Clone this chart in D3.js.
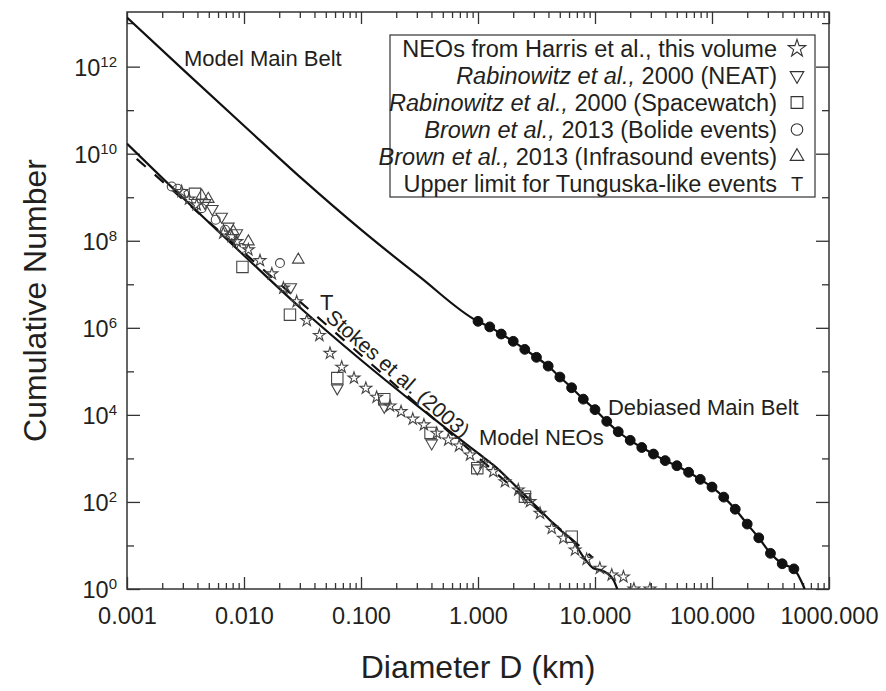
<!DOCTYPE html>
<html>
<head>
<meta charset="utf-8">
<script src="https://cdn.jsdelivr.net/npm/d3@7"></script>
<style>
    body { margin: 0; background: #fff; }
    text { font-family: Arial, "Liberation Sans", sans-serif; fill: #231f20; white-space: pre; }
</style>
</head>
<body>
<div id="chart"></div>
<script>
// ---- data (D in km, N = cumulative number) ----

// Model Main Belt, small sizes (solid line)
var beltModelD = [0.001, 0.00316, 0.01, 0.0316, 0.1, 0.316, 1];
var beltModelN = [1.35e13, 7.6e11, 4.4e10, 2.6e9, 1.8e8, 1.5e7, 1.4e6];

// Debiased Main Belt (filled dots)
var debiasedD = [1, 1.26, 1.58, 2.0, 2.51, 3.16, 3.98, 5.01, 6.31, 7.94, 10, 12.6, 15.8, 20.0,
    25.1, 31.6, 39.8, 50.1, 63.1, 79.4, 100, 126, 158, 200, 251, 316, 398, 501];
var debiasedN = [1.41e6, 1.05e6, 7.2e5, 4.9e5, 3.2e5, 2.1e5, 1.32e5, 7.4e4, 4.2e4, 2.3e4, 1.32e4,
    7100, 4100, 2600, 1780, 1260, 890, 680, 480, 330, 220, 129, 68, 31, 15, 6.6, 3.8, 2.9];
var beltEndD = [620];
var beltEndN = [1];

// Model NEOs (solid line)
var neoModelD = [0.001, 0.00316, 0.01, 0.0316, 0.1, 0.316, 0.575, 1, 1.35, 2.14, 3.16,
    5.01, 6.53, 7.94, 9.68, 11.7, 14.4, 15.5];
var neoModelN = [1.7e10, 8.5e8, 4.6e7, 2.6e6, 1.82e5, 1.48e4, 4170, 1320, 708, 219, 78,
    23, 12.3, 5.5, 3.0, 2.6, 1.6, 1];

// Stokes et al. (2003) power law (dashed)
var stokesD = [0.00121, 9.6];
var stokesN = [7.6e9, 5.2];

// NEOs from Harris et al. (stars)
var harrisD = [0.00293, 0.00339, 0.00394, 0.00665, 0.00785, 0.00867, 0.0109, 0.0137, 0.0173,
    0.0217, 0.0282, 0.0344, 0.0441, 0.0543, 0.0684, 0.0871, 0.110, 0.136, 0.177, 0.220, 0.277,
    0.345, 0.444, 0.557, 0.689, 0.855, 1.11, 1.35, 1.70, 2.21, 2.78, 3.39, 4.27, 5.36, 6.75,
    8.49, 11.0, 13.9, 17.5, 21.5, 29.5];
var harrisN = [1.36e9, 9.1e8, 6.7e8, 1.5e8, 1.26e8, 9.6e7, 6.2e7, 3.5e7, 1.74e7, 8.2e6, 4.0e6,
    1.47e6, 6.7e5, 2.6e5, 1.25e5, 7.0e4, 4.1e4, 2.55e4, 1.61e4, 1.19e4, 8000, 5900, 3800, 2660,
    1940, 1200, 776, 498, 293, 189, 102, 55, 24.8, 14.7, 7.9, 4.8, 3.0, 2.1, 1.9, 1, 1];

// Rabinowitz et al. 2000, NEAT (down triangles)
var neatD = [0.00465, 0.00536, 0.00644, 0.00735, 0.00867, 0.0251, 0.0627, 0.158, 0.402, 0.986, 2.52];
var neatN = [7.4e8, 5.4e8, 3.6e8, 2.13e8, 1.5e8, 8.6e6, 4.1e4, 1.55e4, 2230, 596, 130];

// Rabinowitz et al. 2000, Spacewatch (squares)
var spacewatchD = [0.00381, 0.0097, 0.0247, 0.0627, 0.158, 0.393, 0.986, 2.52, 6.32];
var spacewatchN = [1.2e9, 2.5e7, 2.0e6, 7.0e4, 2.3e4, 3860, 596, 132, 15.9];

// Brown et al. 2013, bolide events (circles)
var bolideD = [0.00241, 0.00271, 0.00309, 0.00435, 0.00573, 0.00689, 0.00955, 0.0203];
var bolideN = [1.77e9, 1.57e9, 1.2e9, 5.6e8, 3.04e8, 1.79e8, 6.8e7, 3.07e7];

// Brown et al. 2013, infrasound events (up triangles)
var infrasoundD = [0.00435, 0.00495, 0.0081, 0.0109, 0.0291];
var infrasoundN = [1.08e9, 9.1e8, 1.64e8, 9.6e7, 3.66e7];

// Upper limit for Tunguska-like events ("T")
var tunguskaD = [0.051];
var tunguskaN = [4.0e6];

var xTickValues = [0.001, 0.01, 0.1, 1, 10, 100, 1000];
var yLabelExponents = [0, 2, 4, 6, 8, 10, 12];

var legendItalic = ["", "Rabinowitz et al.,", "Rabinowitz et al.,", "Brown et al.,", "Brown et al.,", ""];
var legendPlain = ["NEOs from Harris et al., this volume", " 2000 (NEAT)", " 2000 (Spacewatch)",
    " 2013 (Bolide events)", " 2013 (Infrasound events)", "Upper limit for Tunguska-like events"];

// ---- layout ----
var width = 886, height = 691;
var margin = {top: 12, right: 57, bottom: 102, left: 127};
var innerW = width - margin.left - margin.right;
var innerH = height - margin.top - margin.bottom;

var x = d3.scaleLog().domain([0.001, 1000]).range([0, innerW]);
var y = d3.scaleLog().domain([1, 1.8e13]).range([innerH, 0]);

var svg = d3.select("#chart").append("svg")
    .attr("width", width)
    .attr("height", height)
    .style("background", "#fff");

var g = svg.append("g")
    .attr("transform", "translate(" + margin.left + "," + margin.top + ")");

g.append("defs").append("clipPath").attr("id", "plotClip")
    .append("rect").attr("width", innerW).attr("height", innerH);

function zip(a, b) {
    return a.map(function (d, i) { return [d, b[i]]; });
}

// ---- axes ----
var xMinor = x.ticks().filter(function (d) {
    var l = Math.log10(d);
    return Math.abs(l - Math.round(l)) > 1e-6;
});
var yMajor = d3.range(0, 14, 2).map(function (e) { return Math.pow(10, e); });
var yMinor = d3.range(1, 14, 2).map(function (e) { return Math.pow(10, e); });

function cleanAxis(sel) {
    sel.select(".domain").remove();
    sel.selectAll(".tick line").attr("stroke", "#333").attr("stroke-width", 1.3);
}

g.append("g").attr("transform", "translate(0," + innerH + ")")
    .call(d3.axisBottom(x).tickValues(xTickValues).tickSize(-12).tickSizeOuter(0)
        .tickPadding(18).tickFormat(d3.format(".3f")))
    .call(cleanAxis)
    .call(function (s) { s.selectAll("text").attr("font-size", 23.5).attr("font-family", null); });
g.append("g").attr("transform", "translate(0," + innerH + ")")
    .call(d3.axisBottom(x).tickValues(xMinor).tickSize(-6).tickSizeOuter(0).tickFormat(""))
    .call(cleanAxis);
g.append("g")
    .call(d3.axisTop(x).tickValues(xTickValues).tickSize(-12).tickSizeOuter(0).tickFormat(""))
    .call(cleanAxis);
g.append("g")
    .call(d3.axisTop(x).tickValues(xMinor).tickSize(-6).tickSizeOuter(0).tickFormat(""))
    .call(cleanAxis);

g.append("g")
    .call(d3.axisLeft(y).tickValues(yMajor).tickSize(-13).tickSizeOuter(0).tickFormat(""))
    .call(cleanAxis);
g.append("g")
    .call(d3.axisLeft(y).tickValues(yMinor).tickSize(-7).tickSizeOuter(0).tickFormat(""))
    .call(cleanAxis);
g.append("g").attr("transform", "translate(" + innerW + ",0)")
    .call(d3.axisRight(y).tickValues(yMajor).tickSize(-13).tickSizeOuter(0).tickFormat(""))
    .call(cleanAxis);
g.append("g").attr("transform", "translate(" + innerW + ",0)")
    .call(d3.axisRight(y).tickValues(yMinor).tickSize(-7).tickSizeOuter(0).tickFormat(""))
    .call(cleanAxis);

var yLab = g.append("g").selectAll("text")
    .data(yLabelExponents)
    .enter().append("text")
    .attr("x", -10)
    .attr("y", function (d) { return y(Math.pow(10, d)) + 9; })
    .attr("text-anchor", "end")
    .attr("font-size", 23.5);
yLab.append("tspan").text("10");
yLab.append("tspan").attr("dy", -9).attr("font-size", 15).text(function (d) { return d; });

g.append("rect")
    .attr("width", innerW).attr("height", innerH)
    .attr("fill", "none").attr("stroke", "#333").attr("stroke-width", 1.5);

// axis titles
svg.append("text")
    .attr("transform", "translate(46," + (margin.top + innerH / 2) + ") rotate(-90)")
    .attr("text-anchor", "middle")
    .attr("font-size", 32)
    .text("Cumulative Number");
svg.append("text")
    .attr("x", margin.left + innerW / 2)
    .attr("y", 678)
    .attr("text-anchor", "middle")
    .attr("font-size", 32)
    .text("Diameter D (km)");

// ---- curves ----
var line = d3.line()
    .x(function (d) { return x(d[0]); })
    .y(function (d) { return y(d[1]); })
    .curve(d3.curveMonotoneX);

var plot = g.append("g").attr("clip-path", "url(#plotClip)");

var beltData = zip(beltModelD, beltModelN)
    .concat(zip(debiasedD, debiasedN).slice(1))
    .concat(zip(beltEndD, beltEndN));
plot.append("path").datum(beltData)
    .attr("d", line).attr("fill", "none").attr("stroke", "#111").attr("stroke-width", 2.2);

plot.append("path").datum(zip(neoModelD, neoModelN))
    .attr("d", line).attr("fill", "none").attr("stroke", "#111").attr("stroke-width", 2.2);

plot.append("path").datum(zip(stokesD, stokesN))
    .attr("d", d3.line().x(function (d) { return x(d[0]); }).y(function (d) { return y(d[1]); }))
    .attr("fill", "none").attr("stroke", "#111").attr("stroke-width", 2.2)
    .attr("stroke-dasharray", "12,12");

// ---- markers ----
function drawMarkers(ds, ns, type, size, rot, filled) {
    var sym = d3.symbol().type(type).size(size);
    plot.append("g").selectAll("path")
        .data(zip(ds, ns))
        .enter().append("path")
        .attr("d", sym)
        .attr("transform", function (d) {
            return "translate(" + x(d[0]) + "," + y(d[1]) + ")" + (rot ? " rotate(" + rot + ")" : "");
        })
        .attr("fill", filled ? "#111" : "none")
        .attr("stroke", filled ? "#111" : "#444")
        .attr("stroke-width", filled ? 1 : 1.1);
}

drawMarkers(debiasedD, debiasedN, d3.symbolCircle, 76, 0, true);
drawMarkers(harrisD, harrisN, d3.symbolStar, 44, 0, false);
drawMarkers(neatD, neatN, d3.symbolTriangle, 58, 180, false);
drawMarkers(spacewatchD, spacewatchN, d3.symbolSquare, 130, 0, false);
drawMarkers(bolideD, bolideN, d3.symbolCircle, 62, 0, false);
drawMarkers(infrasoundD, infrasoundN, d3.symbolTriangle, 58, 0, false);

plot.append("g").selectAll("text")
    .data(zip(tunguskaD, tunguskaN))
    .enter().append("text")
    .attr("x", function (d) { return x(d[0]); })
    .attr("y", function (d) { return y(d[1]) + 8; })
    .attr("text-anchor", "middle")
    .attr("font-size", 22)
    .text("T");

// ---- annotations ----
g.append("text").attr("x", x(0.00307)).attr("y", y(1.05e12))
    .attr("font-size", 22).text("Model Main Belt");
g.append("text").attr("x", x(12.9)).attr("y", y(1.0e4))
    .attr("font-size", 22).text("Debiased Main Belt");
g.append("text").attr("x", x(1.02)).attr("y", y(2.0e3))
    .attr("font-size", 22).text("Model NEOs");

// label running along the dashed Stokes line
var sx0 = x(stokesD[0]), sy0 = y(stokesN[0]), sx1 = x(stokesD[1]), sy1 = y(stokesN[1]);
var ang = Math.atan2(sy1 - sy0, sx1 - sx0);
var tD = 0.047;
var slope = Math.log(stokesN[1] / stokesN[0]) / Math.log(stokesD[1] / stokesD[0]);
var tN = stokesN[0] * Math.pow(tD / stokesD[0], slope);
var tx = x(tD) + 3 * Math.sin(ang), ty = y(tN) - 3 * Math.cos(ang);
g.append("text")
    .attr("transform", "translate(" + tx + "," + ty + ") rotate(" + (ang * 180 / Math.PI) + ")")
    .attr("font-size", 21)
    .text("Stokes et al. (2003)");

// ---- legend ----
var legend = svg.append("g").attr("transform", "translate(390,35)");
legend.append("rect")
    .attr("width", 425).attr("height", 162)
    .attr("fill", "#fff").attr("stroke", "#333").attr("stroke-width", 1.2);

var legendSymbols = [
    {type: d3.symbolStar, size: 95, rot: 0},
    {type: d3.symbolTriangle, size: 80, rot: 180},
    {type: d3.symbolSquare, size: 140, rot: 0},
    {type: d3.symbolCircle, size: 105, rot: 0},
    {type: d3.symbolTriangle, size: 80, rot: 0},
    null
];

var rows = legend.selectAll(".row")
    .data(legendPlain)
    .enter().append("g")
    .attr("class", "row")
    .attr("transform", function (d, i) { return "translate(0," + (13.5 + 27 * i) + ")"; });

var rowText = rows.append("text")
    .attr("x", 387).attr("y", 8)
    .attr("text-anchor", "end")
    .attr("font-size", 23.5);
rowText.append("tspan").attr("font-style", "italic").text(function (d, i) { return legendItalic[i]; });
rowText.append("tspan").text(function (d) { return d; });

rows.each(function (d, i) {
    var s = legendSymbols[i];
    var row = d3.select(this);
    if (s) {
        row.append("path")
            .attr("d", d3.symbol().type(s.type).size(s.size))
            .attr("transform", "translate(407,0)" + (s.rot ? " rotate(" + s.rot + ")" : ""))
            .attr("fill", "none").attr("stroke", "#333").attr("stroke-width", 1.1);
    } else {
        row.append("text").attr("x", 407).attr("y", 7)
            .attr("text-anchor", "middle").attr("font-size", 20).text("T");
    }
});
</script>
</body>
</html>
